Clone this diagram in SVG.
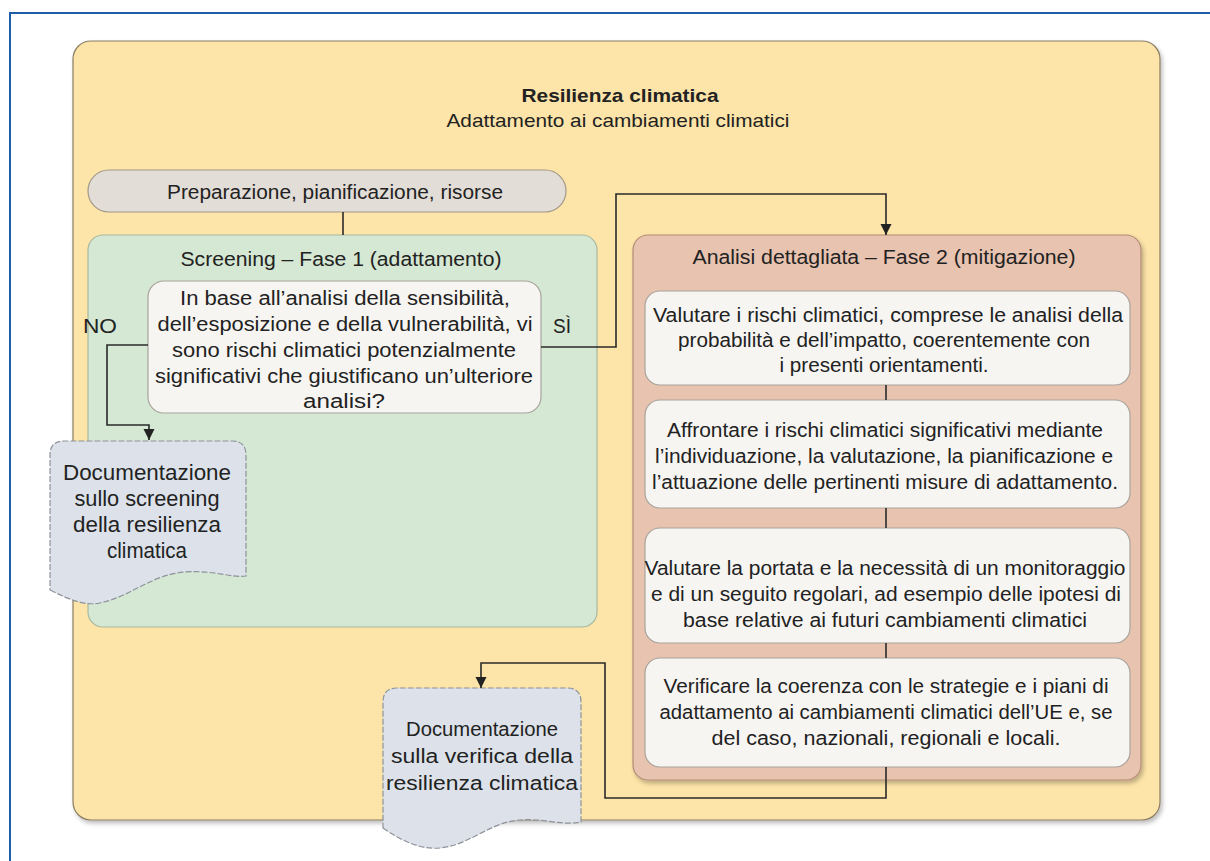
<svg xmlns="http://www.w3.org/2000/svg" width="1210" height="861" viewBox="0 0 1210 861">
  <style>
    text { font-family: "Liberation Sans", Arial, sans-serif; fill: #222; text-anchor: middle; }
    .t20 { font-size: 20px; }
    .t22 { font-size: 22px; }
    .title { font-size: 19px; font-weight: bold; }
    .sub { font-size: 19px; }
    .conn { fill: none; stroke: #2a2a2a; stroke-width: 1.6; }
    .white { fill: #f7f5f2; stroke: #a8a39c; stroke-width: 1.2; }
    .doc { fill: #dde2ea; stroke: #8d929a; stroke-width: 1.2; stroke-dasharray: 6 2; }
  </style>
  <defs>
    <marker id="arrow" markerWidth="12" markerHeight="12" refX="11" refY="6" orient="auto" markerUnits="userSpaceOnUse">
      <path d="M0,0.5 L11,6 L0,11.5 Z" fill="#222"/>
    </marker>
    <filter id="shadow" x="-5%" y="-5%" width="110%" height="110%">
      <feDropShadow dx="2" dy="3" stdDeviation="2" flood-color="#000" flood-opacity="0.25"/>
    </filter>
  </defs>

  <rect width="1210" height="861" fill="#ffffff"/>
  <!-- blue frame -->
  <path d="M10,861 L10,13 L1210,13" fill="none" stroke="#1f5ea8" stroke-width="2"/>

  <!-- outer container -->
  <g id="resilienza">
    <rect x="73" y="41" width="1087" height="779" rx="18" fill="#fde4a8" stroke="#8c7d62" stroke-width="1.2" filter="url(#shadow)"/>
    <text class="title" x="620" y="102" textLength="197" lengthAdjust="spacingAndGlyphs">Resilienza climatica</text>
    <text class="sub" x="618" y="127" textLength="343" lengthAdjust="spacingAndGlyphs">Adattamento ai cambiamenti climatici</text>
  </g>

  <g id="preparazione">
    <rect x="88" y="170" width="478" height="42" rx="21" fill="#e3ddd7" stroke="#a2988a" stroke-width="1.2"/>
    <text class="t20" x="335" y="199" textLength="336" lengthAdjust="spacingAndGlyphs">Preparazione, pianificazione, risorse</text>
  </g>

  <g id="screening">
    <rect x="88" y="235" width="509" height="392" rx="15" fill="#d5e8d3" stroke="#a8b8a0" stroke-width="1.2"/>
    <text class="t20" x="341" y="266" textLength="321" lengthAdjust="spacingAndGlyphs">Screening – Fase 1 (adattamento)</text>
  </g>

  <g id="domanda">
    <rect class="white" x="148" y="281" width="393" height="132" rx="16"/>
    <text class="t20" x="345" y="305" textLength="330" lengthAdjust="spacingAndGlyphs">In base all’analisi della sensibilità,</text>
    <text class="t20" x="345" y="331" textLength="375" lengthAdjust="spacingAndGlyphs">dell’esposizione e della vulnerabilità, vi</text>
    <text class="t20" x="344" y="357" textLength="344" lengthAdjust="spacingAndGlyphs">sono rischi climatici potenzialmente</text>
    <text class="t20" x="344" y="383" textLength="378" lengthAdjust="spacingAndGlyphs">significativi che giustificano un’ulteriore</text>
    <text class="t20" x="344" y="408" textLength="82" lengthAdjust="spacingAndGlyphs">analisi?</text>
  </g>

  <g id="analisi">
    <rect x="633" y="235" width="508" height="545" rx="15" fill="#e8c3af" stroke="#b48c78" stroke-width="1.2" filter="url(#shadow)"/>
    <text class="t20" x="884" y="264" textLength="383" lengthAdjust="spacingAndGlyphs">Analisi dettagliata – Fase 2 (mitigazione)</text>
  </g>

  <g id="valutare-rischi">
    <rect class="white" x="645" y="291" width="485" height="94" rx="15"/>
    <text class="t20" x="888" y="322" textLength="470" lengthAdjust="spacingAndGlyphs">Valutare i rischi climatici, comprese le analisi della</text>
    <text class="t20" x="884" y="347" textLength="412" lengthAdjust="spacingAndGlyphs">probabilità e dell’impatto, coerentemente con</text>
    <text class="t20" x="884" y="372" textLength="209" lengthAdjust="spacingAndGlyphs">i presenti orientamenti.</text>
  </g>

  <g id="affrontare">
    <rect class="white" x="645" y="400" width="485" height="108" rx="15"/>
    <text class="t20" x="885" y="437" textLength="436" lengthAdjust="spacingAndGlyphs">Affrontare i rischi climatici significativi mediante</text>
    <text class="t20" x="884" y="463" textLength="458" lengthAdjust="spacingAndGlyphs">l’individuazione, la valutazione, la pianificazione e</text>
    <text class="t20" x="885" y="489" textLength="466" lengthAdjust="spacingAndGlyphs">l’attuazione delle pertinenti misure di adattamento.</text>
  </g>

  <g id="monitoraggio">
    <rect class="white" x="645" y="528" width="485" height="115" rx="15"/>
    <text class="t20" x="885" y="575" textLength="481" lengthAdjust="spacingAndGlyphs">Valutare la portata e la necessità di un monitoraggio</text>
    <text class="t20" x="886" y="601" textLength="470" lengthAdjust="spacingAndGlyphs">e di un seguito regolari, ad esempio delle ipotesi di</text>
    <text class="t20" x="885" y="627" textLength="404" lengthAdjust="spacingAndGlyphs">base relative ai futuri cambiamenti climatici</text>
  </g>

  <g id="coerenza">
    <rect class="white" x="645" y="658" width="485" height="109" rx="15"/>
    <text class="t20" x="886" y="693" textLength="445" lengthAdjust="spacingAndGlyphs">Verificare la coerenza con le strategie e i piani di</text>
    <text class="t20" x="886" y="719" textLength="453" lengthAdjust="spacingAndGlyphs">adattamento ai cambiamenti climatici dell’UE e, se</text>
    <text class="t20" x="886" y="745" textLength="349" lengthAdjust="spacingAndGlyphs">del caso, nazionali, regionali e locali.</text>
  </g>

  <g id="doc-screening">
    <path class="doc" d="M50,590 C70,600 85,606 100,603 C130,597 150,575 185,572 C215,570 230,578 246,576 L246,455 Q246,441 232,441 L64,441 Q50,441 50,455 Z"/>
    <text class="t22" x="147" y="480" textLength="168" lengthAdjust="spacingAndGlyphs">Documentazione</text>
    <text class="t22" x="147" y="506" textLength="145" lengthAdjust="spacingAndGlyphs">sullo screening</text>
    <text class="t22" x="147" y="532" textLength="148" lengthAdjust="spacingAndGlyphs">della resilienza</text>
    <text class="t22" x="147" y="558" textLength="80" lengthAdjust="spacingAndGlyphs">climatica</text>
  </g>

  <g id="doc-verifica">
    <path class="doc" d="M383,828 C400,840 420,850 440,848 C470,845 490,822 520,820 C545,818 560,826 581,822 L581,702 Q581,688 567,688 L397,688 Q383,688 383,702 Z"/>
    <text class="t20" x="482" y="736" textLength="152" lengthAdjust="spacingAndGlyphs">Documentazione</text>
    <text class="t20" x="482" y="763" textLength="182" lengthAdjust="spacingAndGlyphs">sulla verifica della</text>
    <text class="t20" x="482" y="790" textLength="192" lengthAdjust="spacingAndGlyphs">resilienza climatica</text>
  </g>

  <g id="connectors">
    <line class="conn" x1="343" y1="212" x2="343" y2="235"/>
    <polyline class="conn" points="148,345 107,345 107,425 149,425 149,440" marker-end="url(#arrow)"/>
    <polyline class="conn" points="541,347 616,347 616,194 886,194 886,235" marker-end="url(#arrow)"/>
    <line class="conn" x1="886" y1="385" x2="886" y2="400"/>
    <line class="conn" x1="886" y1="508" x2="886" y2="528"/>
    <line class="conn" x1="886" y1="643" x2="886" y2="658"/>
    <polyline class="conn" points="886,767 886,798 605,798 605,663 481,663 481,688" marker-end="url(#arrow)"/>
    <text class="t20" x="100" y="333" textLength="34" lengthAdjust="spacingAndGlyphs">NO</text>
    <text class="t20" x="562" y="333" textLength="18" lengthAdjust="spacingAndGlyphs">SÌ</text>
  </g>
</svg>
